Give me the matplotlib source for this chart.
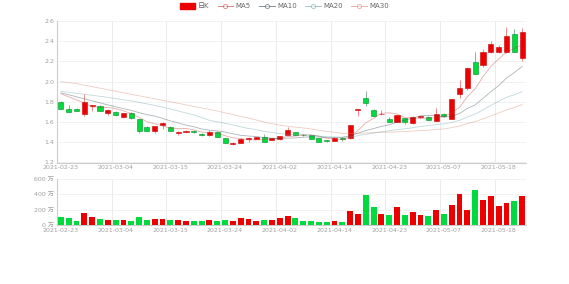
import matplotlib
matplotlib.use("Agg")
import matplotlib.pyplot as plt
import numpy as np
from matplotlib.lines import Line2D
from matplotlib.patches import Patch

plt.rcParams["font.family"] = ["DejaVu Sans", "Noto Sans CJK SC"]

dates = [
    "2021-02-23", "2021-02-24", "2021-02-25", "2021-02-26", "2021-03-01", "2021-03-02", "2021-03-03",
    "2021-03-04", "2021-03-05", "2021-03-08", "2021-03-09", "2021-03-10", "2021-03-11", "2021-03-12",
    "2021-03-15", "2021-03-16", "2021-03-17", "2021-03-18", "2021-03-19", "2021-03-22", "2021-03-23",
    "2021-03-24", "2021-03-25", "2021-03-26", "2021-03-29", "2021-03-30", "2021-03-31", "2021-04-01",
    "2021-04-02", "2021-04-06", "2021-04-07", "2021-04-08", "2021-04-09", "2021-04-12", "2021-04-13",
    "2021-04-14", "2021-04-15", "2021-04-16", "2021-04-19", "2021-04-20", "2021-04-21", "2021-04-22",
    "2021-04-23", "2021-04-26", "2021-04-27", "2021-04-28", "2021-04-29", "2021-04-30", "2021-05-06",
    "2021-05-07", "2021-05-10", "2021-05-11", "2021-05-12", "2021-05-13", "2021-05-14", "2021-05-17",
    "2021-05-18", "2021-05-19", "2021-05-20", "2021-05-21",
]

opens = [1.800, 1.730, 1.728, 1.677, 1.755, 1.762, 1.688, 1.703, 1.655, 1.693,
         1.630, 1.552, 1.515, 1.568, 1.554, 1.495, 1.502, 1.515, 1.485, 1.469,
         1.505, 1.443, 1.383, 1.396, 1.430, 1.435, 1.452, 1.426, 1.430, 1.475,
         1.500, 1.475, 1.470, 1.440, 1.418, 1.416, 1.445, 1.440, 1.720, 1.839,
         1.720, 1.675, 1.634, 1.600, 1.640, 1.588, 1.652, 1.653, 1.611, 1.677,
         1.631, 1.875, 1.940, 2.198, 2.165, 2.297, 2.297, 2.297, 2.472, 2.232]
closes = [1.733, 1.703, 1.713, 1.802, 1.768, 1.713, 1.720, 1.667, 1.687, 1.638,
          1.515, 1.515, 1.561, 1.588, 1.515, 1.502, 1.515, 1.500, 1.470, 1.505,
          1.455, 1.395, 1.396, 1.435, 1.445, 1.450, 1.406, 1.440, 1.462, 1.525,
          1.472, 1.470, 1.435, 1.406, 1.412, 1.445, 1.430, 1.571, 1.727, 1.792,
          1.663, 1.682, 1.600, 1.670, 1.600, 1.653, 1.655, 1.620, 1.683, 1.663,
          1.829, 1.940, 2.139, 2.080, 2.297, 2.373, 2.343, 2.453, 2.297, 2.489]
lows = [1.725, 1.698, 1.708, 1.660, 1.712, 1.708, 1.672, 1.662, 1.642, 1.633,
        1.495, 1.510, 1.492, 1.535, 1.510, 1.472, 1.498, 1.496, 1.466, 1.462,
        1.450, 1.390, 1.372, 1.392, 1.400, 1.432, 1.402, 1.420, 1.425, 1.470,
        1.468, 1.462, 1.430, 1.398, 1.400, 1.412, 1.415, 1.436, 1.663, 1.760,
        1.658, 1.670, 1.596, 1.596, 1.585, 1.584, 1.640, 1.616, 1.606, 1.650,
        1.628, 1.836, 1.918, 2.076, 2.140, 2.280, 2.280, 2.288, 2.292, 2.205]
highs = [1.810, 1.772, 1.735, 1.878, 1.772, 1.768, 1.725, 1.708, 1.692, 1.698,
         1.635, 1.560, 1.566, 1.600, 1.566, 1.510, 1.520, 1.520, 1.488, 1.520,
         1.510, 1.446, 1.400, 1.440, 1.452, 1.455, 1.480, 1.444, 1.466, 1.550,
         1.505, 1.480, 1.474, 1.444, 1.420, 1.448, 1.448, 1.574, 1.730, 1.910,
         1.725, 1.720, 1.648, 1.674, 1.645, 1.665, 1.662, 1.660, 1.737, 1.690,
         1.832, 2.014, 2.142, 2.290, 2.320, 2.400, 2.363, 2.540, 2.520, 2.535]

# volume in 万
volumes = [104, 87, 52, 157, 104, 78, 65, 65, 61, 52,
           104, 65, 78, 78, 65, 65, 52, 52, 52, 65,
           52, 61, 52, 91, 78, 52, 65, 65, 87, 120,
           91, 52, 48, 39, 39, 52, 39, 183, 144, 392,
           235, 144, 135, 231, 131, 170, 131, 118, 196, 140,
           257, 405, 196, 457, 327, 375, 248, 283, 310, 383]

ma5 = [1.880, 1.850, 1.820, 1.790, 1.750, 1.745, 1.744, 1.734, 1.711, 1.685,
       1.645, 1.604, 1.583, 1.563, 1.539, 1.536, 1.536, 1.524, 1.500, 1.498,
       1.489, 1.465, 1.444, 1.437, 1.425, 1.424, 1.426, 1.435, 1.441, 1.457,
       1.461, 1.474, 1.473, 1.462, 1.439, 1.434, 1.426, 1.453, 1.517, 1.593,
       1.637, 1.687, 1.692, 1.681, 1.643, 1.641, 1.636, 1.640, 1.642, 1.655,
       1.690, 1.747, 1.851, 1.930, 2.050, 2.150, 2.225, 2.290, 2.330, 2.365]
ma10 = [1.890, 1.870, 1.850, 1.830, 1.810, 1.790, 1.770, 1.752, 1.733, 1.715,
        1.693, 1.674, 1.659, 1.637, 1.612, 1.591, 1.570, 1.554, 1.532, 1.519,
        1.513, 1.501, 1.484, 1.469, 1.462, 1.457, 1.446, 1.440, 1.439, 1.441,
        1.443, 1.450, 1.454, 1.452, 1.448, 1.448, 1.450, 1.463, 1.490, 1.516,
        1.536, 1.557, 1.573, 1.599, 1.618, 1.639, 1.662, 1.666, 1.662, 1.649,
        1.656, 1.685, 1.735, 1.770, 1.835, 1.900, 1.960, 2.035, 2.090, 2.150]
ma20 = [1.905, 1.895, 1.885, 1.875, 1.865, 1.855, 1.845, 1.832, 1.820, 1.810,
        1.795, 1.780, 1.765, 1.748, 1.730, 1.710, 1.690, 1.670, 1.645, 1.617,
        1.603, 1.588, 1.572, 1.553, 1.537, 1.524, 1.508, 1.497, 1.486, 1.480,
        1.478, 1.476, 1.469, 1.461, 1.455, 1.453, 1.448, 1.452, 1.465, 1.479,
        1.490, 1.504, 1.514, 1.526, 1.533, 1.544, 1.556, 1.565, 1.576, 1.583,
        1.596, 1.618, 1.650, 1.680, 1.720, 1.765, 1.805, 1.845, 1.870, 1.900]
ma30 = [2.000, 1.990, 1.980, 1.965, 1.950, 1.935, 1.920, 1.905, 1.890, 1.875,
        1.860, 1.845, 1.830, 1.815, 1.800, 1.785, 1.770, 1.755, 1.740, 1.725,
        1.710, 1.690, 1.675, 1.655, 1.640, 1.620, 1.600, 1.585, 1.570, 1.558,
        1.550, 1.542, 1.532, 1.519, 1.507, 1.499, 1.489, 1.486, 1.487, 1.492,
        1.497, 1.499, 1.500, 1.503, 1.506, 1.511, 1.516, 1.520, 1.527, 1.532,
        1.545, 1.562, 1.585, 1.605, 1.632, 1.660, 1.690, 1.720, 1.745, 1.772]

up_color = "#ec0000"
down_color = "#00da3c"
ma_names = ["MA5", "MA10", "MA20", "MA30"]
ma_colors = ["#c23531", "#2f4554", "#61a0a8", "#d48265"]

fig = plt.figure(figsize=(5.69, 2.84), dpi=100)
ax = fig.add_axes([57 / 569, 1 - 162.5 / 284, 469 / 569, 141.5 / 284])
axv = fig.add_axes([57 / 569, 1 - 225 / 284, 469 / 569, 46 / 284])

x = np.arange(len(dates))
o = np.array(opens)
c = np.array(closes)
up = c >= o

body_bottom = np.minimum(o, c)
body_height = np.maximum(np.abs(c - o), 0.004)
face = np.where(up, up_color, down_color)
edge = np.where(up, "#d00000", "#008F28")
wick = np.where(up, "#f08a8a", "#8fb09a")

ax.vlines(x, lows, highs, colors=wick, linewidth=0.7, zorder=2)
ax.bar(x, body_height, bottom=body_bottom, width=0.65, color=face,
       edgecolor=edge, linewidth=0.4, zorder=3)

for vals, col in zip([ma5, ma10, ma20, ma30], ma_colors):
    ax.plot(x, vals, color=col, linewidth=0.6, alpha=0.4, zorder=4)

axv.bar(x, volumes, width=0.75, color=face, zorder=3)

for a in (ax, axv):
    a.set_xlim(-0.5, len(dates) - 0.5)
    for s in ("top", "right"):
        a.spines[s].set_visible(False)
    for s in ("left", "bottom"):
        a.spines[s].set_color("#cccccc")
        a.spines[s].set_linewidth(0.8)
    a.tick_params(length=0, labelsize=4.5, labelcolor="#a0a0a0", pad=2)
    a.set_xticks(range(0, len(dates), 7))
    a.set_xticklabels(dates[::7])
    for k in range(7, len(dates), 7):
        a.axvline(k - 0.5, color="#e8e8e8", linewidth=0.6, zorder=0)
    a.axvline(len(dates) - 0.5, color="#e8e8e8", linewidth=0.6, zorder=0)
    a.grid(axis="y", color="#f0f0f0", linewidth=0.6, zorder=0)
    a.set_axisbelow(True)

ax.set_ylim(1.2, 2.6)
ax.set_yticks(np.arange(1.2, 2.61, 0.2))
ax.set_yticklabels([f"{v:.1f}" for v in np.arange(1.2, 2.61, 0.2)])

axv.set_ylim(0, 600)
axv.set_yticks([0, 200, 400, 600])
axv.set_yticklabels(["0 万", "200 万", "400 万", "600 万"])

handles = [Patch(facecolor=up_color, edgecolor=up_color)]
for col in ma_colors:
    handles.append(Line2D([0], [0], color=col, linewidth=0.7, alpha=0.6, marker="o",
                          markersize=3, markerfacecolor="white", markeredgewidth=0.6))
fig.legend(handles, ["日K"] + ma_names, loc="upper center", bbox_to_anchor=(0.5, 1.01),
           ncol=5, frameon=False, fontsize=5, labelcolor="#666666", handlelength=2.2,
           handleheight=0.8, columnspacing=1.2, handletextpad=0.4)

fig.savefig("out.png", dpi=100)
